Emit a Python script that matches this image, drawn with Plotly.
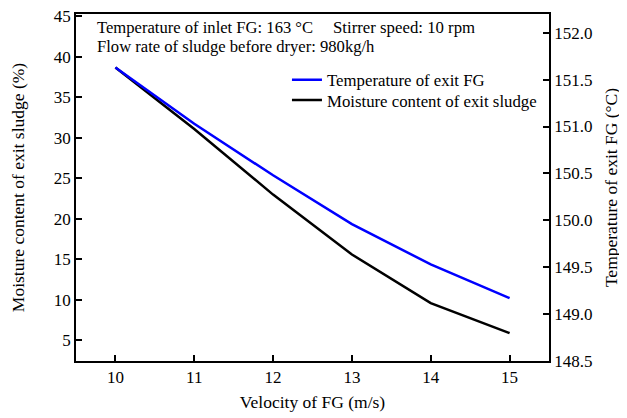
import plotly.graph_objects as go

velocity = [10, 11, 12, 13, 14, 15]
moisture = [38.7, 31.1, 23.0, 15.6, 9.6, 5.9]
temperature = [151.63, 151.03, 150.48, 149.96, 149.53, 149.17]

FONT = "Liberation Serif, Times New Roman, serif"

fig = go.Figure()
fig.add_trace(go.Scatter(x=velocity, y=temperature, mode="lines", name="Temperature of exit FG",
                         line=dict(color="#0000ff", width=2.5), yaxis="y2", legend="legend"))
fig.add_trace(go.Scatter(x=velocity, y=moisture, mode="lines", name="Moisture content of exit sludge",
                         line=dict(color="#000000", width=2.5), yaxis="y", legend="legend2"))

axis_common = dict(showgrid=False, zeroline=False, showline=True, linecolor="black", linewidth=1.5,
                   ticks="inside", ticklen=6, tickwidth=1.5, tickcolor="black", automargin=False,
                   ticklabeloverflow="allow",
                   tickfont=dict(family=FONT, size=17, color="black"))

leg_common = dict(xanchor="left", yanchor="middle", bgcolor="rgba(0,0,0,0)",
                  font=dict(family=FONT, size=16.8))

fig.update_layout(
    width=627, height=418,
    margin=dict(l=68, r=86, t=6, b=65),
    paper_bgcolor="white", plot_bgcolor="white",
    font=dict(family=FONT, size=17, color="black"),
    xaxis=dict(range=[9.5, 15.5], tickvals=velocity, mirror=True,
               title=dict(text="Velocity of FG (m/s)", font=dict(family=FONT, size=17.5), standoff=10),
               **axis_common),
    yaxis=dict(range=[2.45, 45.3], tickvals=[5, 10, 15, 20, 25, 30, 35, 40, 45],
               title=dict(text="Moisture content of exit sludge (%)", font=dict(family=FONT, size=17.5), standoff=26),
               **axis_common),
    yaxis2=dict(range=[148.5, 152.2], overlaying="y", side="right", tickformat=".1f",
                tickvals=[148.5, 149.0, 149.5, 150.0, 150.5, 151.0, 151.5, 152.0],
                title=dict(text="Temperature of exit FG (°C)", font=dict(family=FONT, size=17.5), standoff=13),
                **axis_common),
    legend=dict(x=0.446, y=0.810, **leg_common),
    legend2=dict(x=0.446, y=0.752, **leg_common),
    showlegend=True,
)

fig.add_annotation(x=0.040, y=0.96, xref="paper", yref="paper", xanchor="left", yanchor="middle",
                   text="Temperature of inlet FG: 163 °C", showarrow=False, font=dict(family=FONT, size=16.6))
fig.add_annotation(x=0.540, y=0.96, xref="paper", yref="paper", xanchor="left", yanchor="middle",
                   text="Stirrer speed: 10 rpm", showarrow=False, font=dict(family=FONT, size=16.8))
fig.add_annotation(x=0.040, y=0.905, xref="paper", yref="paper", xanchor="left", yanchor="middle",
                   text="Flow rate of sludge before dryer: 980kg/h", showarrow=False, font=dict(family=FONT, size=16.6))

fig.write_html("out.html")
